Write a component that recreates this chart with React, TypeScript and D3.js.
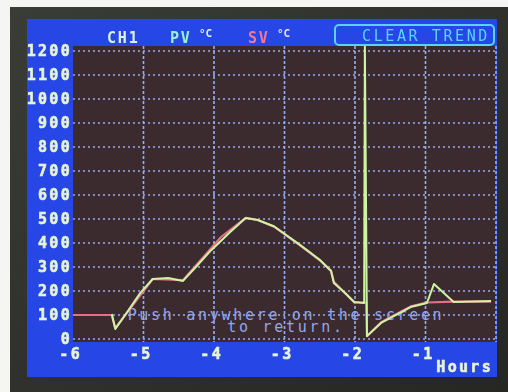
import React from 'react';
import * as d3 from 'd3';

// ---- data ----
const xTickValues = [-6, -5, -4, -3, -2, -1];
const yTickValues = [0, 100, 200, 300, 400, 500, 600, 700, 800, 900, 1000, 1100, 1200];

const svHours = [-6, -5.45, -5.4, -4.87, -4.44, -3.9, -3.55, -3.38, -3.15, -2.78, -2.5, -2.34, -2.3, -2.01, -1.84, -1.83, -1.63, -1.21, -0.98, -0.6, -0.07];
const svValues = [100, 100, 45, 250, 245, 425, 505, 496, 468, 390, 328, 285, 238, 152, 152, 12, 70, 136, 152, 156, 156];

const pvHours = [-5.45, -5.4, -5.26, -5.05, -4.87, -4.65, -4.44, -4.27, -4.04, -3.77, -3.55, -3.38, -3.15, -2.78, -2.5, -2.34, -2.3, -2.14, -2.01, -1.87, -1.86, -1.83, -1.63, -1.21, -0.98, -0.88, -0.6, -0.07];
const pvValues = [104, 42, 100, 190, 250, 254, 242, 296, 370, 446, 504, 496, 470, 392, 330, 283, 233, 192, 154, 150, 1225, 12, 67, 133, 150, 229, 154, 158];

const W = 508;
const H = 392;

export default function App() {
  const x = d3.scaleLinear().domain([-6, 0]).range([73, 496]);
  const y = d3.scaleLinear().domain([0, 1200]).range([339, 51]);
  const plotTop = 46;
  const plotBottom = 342;

  const line = d3
    .line<[number, number]>()
    .x((d) => x(d[0]))
    .y((d) => y(d[1]));

  const svPath = line(svHours.map((h, i) => [h, svValues[i]] as [number, number])) || '';
  const pvPath = line(pvHours.map((h, i) => [h, pvValues[i]] as [number, number])) || '';

  const mono = '"DejaVu Sans Mono", "Liberation Mono", monospace';
  const cream = '#e6f3d6';
  const gridColor = '#94aef4';

  return (
    <svg
      width={W}
      height={H}
      viewBox={`0 0 ${W} ${H}`}
      style={{ position: 'absolute', left: 0, top: 0 }}
    >
      <defs>
        <filter id="glow" x="-10%" y="-10%" width="120%" height="120%">
          <feGaussianBlur stdDeviation="0.5" />
        </filter>
        <clipPath id="plotClip">
          <rect x={73} y={plotTop} width={496 - 73 + 1} height={plotBottom - plotTop} />
        </clipPath>
        <linearGradient id="bezel" x1="0" y1="0" x2="1" y2="1">
          <stop offset="0" stopColor="#3a3c36" />
          <stop offset="1" stopColor="#262622" />
        </linearGradient>
      </defs>

      {/* page + bezel */}
      <rect x={0} y={0} width={W} height={H} fill="#f5f5f3" />
      <rect x={10} y={7} width={W - 10} height={H - 7} fill="url(#bezel)" />

      {/* blue screen */}
      <rect x={27} y={19} width={470} height={358} fill="#2646e6" />

      {/* plot background */}
      <rect x={73} y={plotTop} width={423} height={plotBottom - plotTop} fill="#3b2b2f" />

      {/* grid */}
      <g filter="url(#glow)">
        {yTickValues.map((v) => (
          <line
            key={'hy' + v}
            x1={73}
            x2={496}
            y1={y(v)}
            y2={y(v)}
            stroke={gridColor}
            strokeWidth={1.6}
            strokeDasharray="2 3"
          />
        ))}
        {[...xTickValues.slice(1), 0].map((h) => (
          <line
            key={'vx' + h}
            x1={x(h)}
            x2={x(h)}
            y1={plotTop}
            y2={plotBottom}
            stroke={gridColor}
            strokeWidth={1.6}
            strokeDasharray="3 2"
          />
        ))}
      </g>

      {/* overlay message */}
      <g fontFamily={mono} fontSize={15} fill="#93a6ec" textAnchor="middle" letterSpacing={2.7}>
        <text x={286} y={320}>Push anywhere on the screen</text>
        <text x={286} y={332}>to return.</text>
      </g>

      {/* trend lines */}
      <g clipPath="url(#plotClip)" fill="none" strokeLinejoin="round">
        <path d={svPath} stroke="#e2708a" strokeWidth={2.2} />
        <path d={pvPath} stroke="#cdf4a2" strokeWidth={2} />
      </g>

      {/* y axis labels */}
      <g fontFamily={mono} fontWeight="bold" fontSize={15} fill={cream} stroke={cream} strokeWidth={0.6} textAnchor="end" letterSpacing={2.3} filter="url(#glow)">
        {yTickValues.map((v) => (
          <text key={'ly' + v} x={72} y={y(v) + 5}>
            {v}
          </text>
        ))}
      </g>

      {/* x axis labels */}
      <g fontFamily={mono} fontWeight="bold" fontSize={15} fill={cream} stroke={cream} strokeWidth={0.6} textAnchor="end" letterSpacing={2.3} filter="url(#glow)">
        {xTickValues.map((h) => (
          <text key={'lx' + h} x={x(h) + 9} y={359}>
            {h}
          </text>
        ))}
        <text x={493} y={372}>Hours</text>
      </g>

      {/* header */}
      <g fontFamily={mono} fontWeight="bold" filter="url(#glow)">
        <text x={107} y={43} fontSize={15} fill="#dcf2e2" letterSpacing={1.8}>CH1</text>
        <text x={170} y={43} fontSize={15} fill="#9af0d2" letterSpacing={1.8}>PV</text>
        <text x={199} y={37} fontSize={11} fill="#dcf2e2">°C</text>
        <text x={248} y={43} fontSize={15} fill="#f07898" letterSpacing={1.8}>SV</text>
        <text x={277} y={37} fontSize={11} fill="#e8e0f0">°C</text>
      </g>

      {/* clear trend button */}
      <g filter="url(#glow)">
        <rect x={335} y={25} width={159} height={20} rx={4} fill="none" stroke="#5ad4ff" strokeWidth={2} />
        <text
          x={490}
          y={41}
          fontFamily={mono}
          fontSize={15}
          fill="#5ad4ff"
          textAnchor="end"
          letterSpacing={2.6}
        >
          CLEAR TREND
        </text>
      </g>
    </svg>
  );
}
